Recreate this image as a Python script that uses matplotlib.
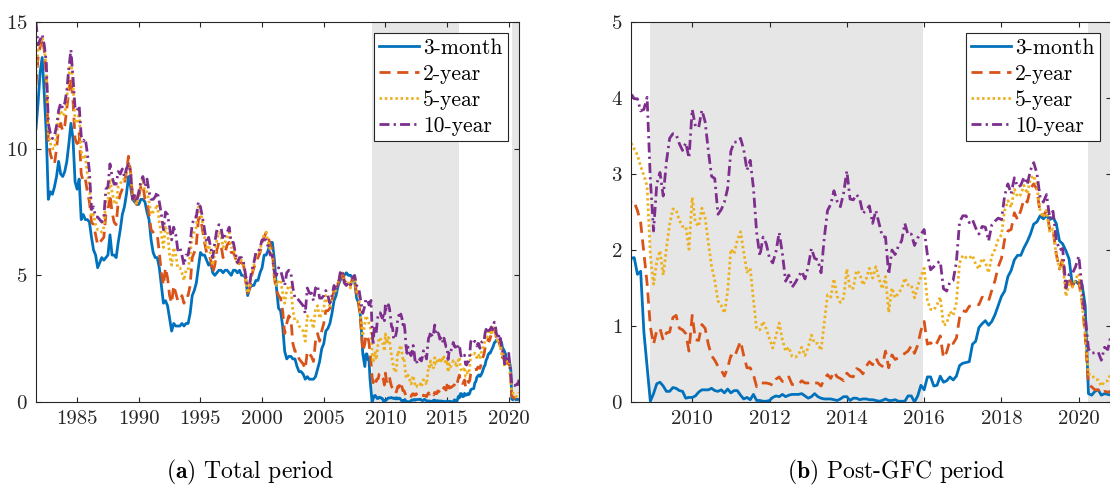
"""Treasury yields, total period and post-GFC period, MATLAB-style two-panel figure."""
import numpy as np
import matplotlib
matplotlib.use("Agg")
import matplotlib.pyplot as plt

plt.rcParams["font.family"] = "cmr10"
plt.rcParams["mathtext.fontset"] = "cm"
plt.rcParams["axes.formatter.use_mathtext"] = True

# ---- data: end-of-month yields (%), bi-monthly Aug 1981 - Apr 2008 -------
# one row per calendar year (first value of a row = end of previous December)
y3m_early = [
    10.8, 11.8,
    13.0, 13.6, 12.2, 10.6, 8.0, 8.3,
    8.2, 8.5, 8.9, 9.5, 9.0, 8.9,
    9.1, 9.5, 10.2, 11.0, 10.4, 8.7,
    8.4, 8.8, 7.2, 7.4, 7.2, 7.2,
    7.1, 6.5, 6.0, 5.8, 5.3, 5.5,
    5.7, 5.6, 5.7, 5.8, 6.6, 5.8,
    5.8, 5.7, 6.3, 6.8, 7.4, 7.7,
    8.2, 8.9, 8.5, 8.0, 7.9, 7.8,
    7.8, 8.0, 8.0, 7.9, 7.5, 7.2,
    6.4, 5.9, 5.7, 5.7, 5.3, 4.6,
    3.9, 4.0, 3.8, 3.3, 2.8, 3.1,
    3.0, 3.0, 3.0, 3.1, 3.0, 3.1,
    3.1, 3.5, 4.2, 4.4, 4.7, 5.3,
    5.9, 5.8, 5.8, 5.6, 5.4, 5.5,
    5.1, 5.0, 5.1, 5.2, 5.2, 5.1,
    5.2, 5.2, 5.1, 5.0, 5.2, 5.2,
    5.1, 5.2, 5.0, 5.0, 4.9, 4.2,
    4.5, 4.6, 4.6, 4.8, 4.8, 5.1,
    5.3, 5.8, 5.8, 6.0, 6.3, 6.3,
    5.6, 4.5, 3.7, 3.6, 3.0, 2.0,
    1.7, 1.8, 1.8, 1.7, 1.7, 1.4,
    1.2, 1.2, 1.1, 0.9, 1.0, 0.9,
    0.9, 0.9, 1.0, 1.3, 1.6, 2.1,
    2.3, 2.8, 2.9, 3.1, 3.5, 4.0,
    4.2, 4.6, 4.8, 5.0, 5.0, 5.1,
    5.0, 5.0, 4.9, 4.8, 4.1, 3.9,
    3.3, 1.9, 1.4,
]
y2y_early = [
    12.5, 13.6,
    14.0, 14.4, 13.9, 12.8, 10.2, 9.8,
    9.5, 9.4, 10.0, 10.8, 11.0, 10.7,
    10.9, 11.6, 12.3, 12.8, 11.9, 10.4,
    10.2, 10.6, 9.0, 8.7, 8.8, 8.3,
    7.9, 7.1, 7.0, 6.6, 6.2, 6.3,
    6.4, 6.5, 7.4, 7.5, 8.2, 7.5,
    7.1, 7.0, 7.9, 8.2, 8.4, 8.6,
    9.1, 9.7, 9.1, 8.1, 8.2, 7.8,
    8.1, 8.5, 8.6, 8.0, 7.9, 7.4,
    6.8, 6.7, 6.6, 6.6, 5.9, 5.1,
    4.6, 5.3, 4.9, 4.2, 3.9, 4.6,
    4.3, 4.0, 4.0, 4.2, 3.9, 4.2,
    4.2, 4.6, 5.7, 5.9, 6.2, 7.2,
    7.3, 6.8, 6.3, 5.9, 5.9, 5.6,
    5.1, 5.4, 6.0, 6.3, 6.2, 5.7,
    5.9, 6.2, 6.3, 5.9, 5.9, 5.7,
    5.4, 5.5, 5.5, 5.4, 4.8, 4.3,
    4.5, 5.0, 5.3, 5.5, 5.7, 5.9,
    6.3, 6.5, 6.7, 6.5, 6.2, 6.0,
    4.9, 4.4, 4.2, 4.1, 3.6, 2.7,
    3.1, 3.4, 3.3, 2.3, 2.0, 2.0,
    1.7, 1.6, 1.5, 1.3, 2.0, 1.9,
    1.8, 1.6, 2.4, 2.7, 2.4, 2.8,
    3.1, 3.6, 3.6, 3.7, 4.0, 4.4,
    4.4, 4.7, 4.9, 5.2, 4.8, 4.7,
    4.8, 4.6, 4.9, 4.9, 4.2, 3.9,
    3.1, 2.0, 2.3,
]
y5y_early = [
    13.0, 13.9,
    14.2, 14.4, 14.0, 13.2, 10.6, 10.2,
    10.0, 10.0, 10.5, 11.3, 11.5, 11.3,
    11.4, 12.0, 12.9, 13.5, 12.5, 11.1,
    11.0, 11.4, 9.9, 9.6, 9.7, 9.0,
    8.5, 7.3, 7.4, 7.0, 6.8, 6.8,
    6.7, 6.9, 8.0, 8.0, 8.8, 8.3,
    7.9, 7.8, 8.5, 8.6, 8.8, 8.8,
    9.2, 9.5, 9.1, 8.0, 8.0, 7.8,
    8.2, 8.6, 8.8, 8.3, 8.3, 7.9,
    7.4, 7.5, 7.6, 7.8, 7.1, 6.6,
    6.1, 6.9, 6.7, 5.8, 5.4, 6.1,
    5.8, 5.3, 5.3, 5.1, 4.8, 5.2,
    5.2, 5.8, 6.6, 6.7, 6.9, 7.7,
    7.6, 7.1, 6.5, 6.1, 6.2, 5.8,
    5.4, 5.9, 6.4, 6.7, 6.6, 6.1,
    6.3, 6.5, 6.7, 6.1, 6.1, 5.8,
    5.4, 5.6, 5.6, 5.4, 4.8, 4.3,
    4.5, 5.1, 5.4, 5.8, 5.8, 6.0,
    6.4, 6.6, 6.7, 6.3, 6.0, 5.8,
    4.9, 4.6, 4.8, 4.8, 4.3, 3.9,
    4.4, 4.6, 4.5, 3.6, 3.2, 3.2,
    3.0, 2.9, 2.8, 2.4, 3.4, 3.3,
    3.2, 2.9, 3.7, 3.8, 3.3, 3.5,
    3.7, 4.2, 3.9, 3.8, 4.1, 4.5,
    4.4, 4.7, 5.0, 5.1, 4.7, 4.6,
    4.7, 4.5, 4.9, 4.9, 4.4, 4.2,
    3.4, 2.6, 3.1,
]
y10y_early = [
    15.0, 14.1,
    14.3, 14.5, 14.1, 13.4, 11.0, 10.6,
    10.4, 10.5, 10.9, 11.5, 11.8, 11.6,
    11.8, 12.3, 13.2, 13.9, 12.8, 11.6,
    11.5, 11.7, 10.5, 10.3, 10.4, 9.8,
    9.1, 7.6, 7.7, 7.3, 7.3, 7.2,
    7.1, 7.3, 8.4, 8.5, 9.4, 8.9,
    8.6, 8.6, 9.1, 9.0, 9.2, 8.9,
    9.2, 9.4, 9.1, 8.0, 8.2, 7.9,
    8.3, 8.7, 8.9, 8.5, 8.8, 8.3,
    8.0, 8.0, 8.1, 8.3, 7.9, 7.4,
    6.8, 7.5, 7.4, 6.9, 6.4, 6.9,
    6.6, 6.0, 6.1, 5.8, 5.4, 5.8,
    5.8, 6.3, 7.0, 7.3, 7.3, 7.9,
    7.7, 7.3, 6.8, 6.3, 6.5, 6.1,
    5.7, 6.3, 6.8, 7.0, 6.9, 6.4,
    6.6, 6.7, 6.9, 6.3, 6.3, 5.9,
    5.5, 5.7, 5.7, 5.5, 5.0, 4.6,
    4.7, 5.2, 5.5, 5.9, 5.9, 6.1,
    6.4, 6.4, 6.4, 6.1, 5.8, 5.8,
    5.1, 5.0, 5.3, 5.2, 4.9, 4.6,
    5.1, 5.2, 5.1, 4.5, 4.1, 4.1,
    4.0, 3.9, 3.8, 3.5, 4.5, 4.3,
    4.3, 4.0, 4.5, 4.6, 4.1, 4.1,
    4.2, 4.4, 4.2, 3.9, 4.2, 4.6,
    4.4, 4.6, 5.1, 5.2, 4.7, 4.6,
    4.7, 4.6, 4.9, 5.0, 4.6, 4.5,
    4.0, 3.5, 3.8,
]

# ---- data: end-of-month yields (%), monthly May 2008 - Oct 2020 ----------
y3m_post = [
    1.89, 1.90, 1.68, 1.72, 0.92, 0.46, 0.01, 0.11,
    0.24, 0.26, 0.21, 0.14, 0.14, 0.19, 0.18, 0.15, 0.14, 0.05, 0.06, 0.06,
    0.08, 0.13, 0.16, 0.16, 0.16, 0.18, 0.15, 0.14, 0.16, 0.12, 0.17, 0.12,
    0.15, 0.15, 0.09, 0.04, 0.06, 0.03, 0.10, 0.02, 0.02, 0.01, 0.01, 0.02,
    0.06, 0.08, 0.07, 0.10, 0.07, 0.09, 0.10, 0.10, 0.10, 0.11, 0.08, 0.05,
    0.07, 0.11, 0.07, 0.05, 0.04, 0.04, 0.04, 0.03, 0.02, 0.04, 0.07, 0.07,
    0.02, 0.05, 0.05, 0.03, 0.04, 0.04, 0.03, 0.03, 0.02, 0.01, 0.02, 0.04,
    0.02, 0.02, 0.03, 0.01, 0.01, 0.01, 0.08, 0.08, 0.00, 0.08, 0.22, 0.16,
    0.33, 0.33, 0.21, 0.22, 0.34, 0.26, 0.28, 0.33, 0.29, 0.34, 0.48, 0.51,
    0.52, 0.53, 0.76, 0.80, 0.98, 1.03, 1.07, 1.01, 1.06, 1.15, 1.27, 1.39,
    1.46, 1.65, 1.73, 1.87, 1.93, 1.93, 2.03, 2.11, 2.21, 2.34, 2.37, 2.45,
    2.41, 2.45, 2.40, 2.43, 2.35, 2.12, 2.08, 1.99, 1.88, 1.54, 1.59, 1.55,
    1.55, 1.27, 0.11, 0.09, 0.14, 0.16, 0.09, 0.11, 0.10, 0.09,
]
y2y_post = [
    2.65, 2.63, 2.52, 2.36, 1.96, 1.56, 0.99, 0.76,
    0.94, 0.97, 0.81, 0.91, 0.92, 1.11, 1.14, 0.97, 0.95, 0.90, 0.67, 1.14,
    0.82, 0.81, 1.02, 0.97, 0.76, 0.61, 0.55, 0.47, 0.42, 0.34, 0.45, 0.61,
    0.58, 0.69, 0.80, 0.61, 0.45, 0.45, 0.36, 0.20, 0.25, 0.25, 0.25, 0.24,
    0.22, 0.30, 0.33, 0.27, 0.27, 0.33, 0.23, 0.23, 0.23, 0.28, 0.25, 0.25,
    0.27, 0.25, 0.25, 0.21, 0.30, 0.36, 0.31, 0.40, 0.33, 0.31, 0.28, 0.38,
    0.34, 0.33, 0.44, 0.42, 0.37, 0.47, 0.53, 0.49, 0.58, 0.50, 0.47, 0.67,
    0.45, 0.62, 0.56, 0.58, 0.61, 0.64, 0.67, 0.74, 0.64, 0.75, 0.94, 1.06,
    0.76, 0.78, 0.73, 0.78, 0.87, 0.58, 0.66, 0.81, 0.77, 0.84, 1.11, 1.20,
    1.19, 1.26, 1.27, 1.28, 1.28, 1.38, 1.36, 1.33, 1.47, 1.60, 1.78, 1.89,
    2.14, 2.25, 2.27, 2.49, 2.40, 2.52, 2.67, 2.63, 2.81, 2.87, 2.80, 2.48,
    2.45, 2.52, 2.27, 2.27, 1.95, 1.75, 1.89, 1.50, 1.63, 1.52, 1.61, 1.58,
    1.33, 0.86, 0.23, 0.20, 0.16, 0.16, 0.11, 0.14, 0.13, 0.14,
]
y5y_post = [
    3.41, 3.33, 3.25, 3.10, 2.98, 2.84, 1.93, 1.55,
    1.85, 1.99, 1.67, 2.02, 2.34, 2.54, 2.53, 2.39, 2.31, 2.31, 2.01, 2.69,
    2.36, 2.31, 2.55, 2.43, 2.10, 1.79, 1.60, 1.33, 1.27, 1.17, 1.45, 2.01,
    1.95, 2.13, 2.24, 1.97, 1.71, 1.76, 1.35, 0.96, 0.95, 1.06, 0.96, 0.83,
    0.71, 0.87, 1.04, 0.82, 0.67, 0.72, 0.60, 0.59, 0.62, 0.72, 0.61, 0.72,
    0.88, 0.77, 0.77, 0.68, 1.05, 1.41, 1.38, 1.62, 1.39, 1.31, 1.37, 1.75,
    1.49, 1.50, 1.73, 1.69, 1.54, 1.62, 1.76, 1.63, 1.78, 1.62, 1.49, 1.65,
    1.18, 1.50, 1.37, 1.43, 1.49, 1.63, 1.54, 1.54, 1.37, 1.52, 1.65, 1.76,
    1.33, 1.22, 1.21, 1.28, 1.38, 1.01, 1.03, 1.19, 1.14, 1.31, 1.83, 1.93,
    1.90, 1.89, 1.93, 1.81, 1.75, 1.89, 1.84, 1.70, 1.92, 2.01, 2.14, 2.20,
    2.52, 2.65, 2.56, 2.80, 2.70, 2.73, 2.85, 2.74, 2.94, 2.98, 2.84, 2.51,
    2.43, 2.52, 2.23, 2.28, 1.93, 1.76, 1.84, 1.39, 1.55, 1.51, 1.62, 1.69,
    1.32, 0.89, 0.37, 0.36, 0.30, 0.29, 0.21, 0.27, 0.28, 0.38,
]
y10y_post = [
    4.06, 3.99, 3.99, 3.83, 3.85, 4.01, 2.93, 2.25,
    2.87, 3.02, 2.71, 3.16, 3.47, 3.53, 3.52, 3.40, 3.31, 3.41, 3.21, 3.85,
    3.63, 3.61, 3.84, 3.69, 3.31, 2.97, 2.94, 2.47, 2.53, 2.63, 2.81, 3.30,
    3.42, 3.42, 3.47, 3.32, 3.05, 3.18, 2.82, 2.23, 1.92, 2.17, 2.08, 1.89,
    1.83, 1.98, 2.23, 1.95, 1.59, 1.67, 1.51, 1.57, 1.65, 1.72, 1.62, 1.78,
    2.02, 1.89, 1.87, 1.70, 2.16, 2.52, 2.60, 2.78, 2.64, 2.57, 2.75, 3.04,
    2.67, 2.66, 2.73, 2.67, 2.48, 2.53, 2.58, 2.35, 2.52, 2.35, 2.18, 2.17,
    1.68, 2.00, 1.94, 2.05, 2.12, 2.35, 2.20, 2.21, 2.06, 2.16, 2.21, 2.27,
    1.94, 1.74, 1.78, 1.83, 1.85, 1.49, 1.46, 1.58, 1.60, 1.84, 2.37, 2.45,
    2.45, 2.36, 2.40, 2.29, 2.21, 2.31, 2.30, 2.12, 2.33, 2.38, 2.42, 2.40,
    2.72, 2.87, 2.74, 2.95, 2.83, 2.85, 2.96, 2.86, 3.05, 3.15, 3.01, 2.69,
    2.63, 2.73, 2.41, 2.51, 2.14, 2.00, 2.02, 1.50, 1.68, 1.69, 1.78, 1.92,
    1.51, 1.13, 0.70, 0.64, 0.65, 0.66, 0.55, 0.72, 0.69, 0.88,
]

labels = ["3-month", "2-year", "5-year", "10-year"]
qe_periods = [(2008.9, 2015.96), (2020.25, 2021.0)]  # shaded windows
left_xticks = [1985, 1990, 1995, 2000, 2005, 2010, 2015, 2020]
right_xticks = [2010, 2012, 2014, 2016, 2018, 2020]

# sampling grid: bi-monthly from end-Aug 1981, monthly from end-May 2008
t_early = 1981 + 8 / 12 + np.arange(len(y3m_early)) / 6
t_post = 2008 + 5 / 12 + np.arange(len(y3m_post)) / 12
t = np.concatenate([t_early, t_post])
series = [
    np.concatenate([y3m_early, y3m_post]),
    np.concatenate([y2y_early, y2y_post]),
    np.concatenate([y5y_early, y5y_post]),
    np.concatenate([y10y_early, y10y_post]),
]

colors = ["#0072BD", "#D95319", "#EDB120", "#7E2F8E"]
# MATLAB-like dash patterns (in units of line width)
dash_styles = [None, (4.0, 2.4), (0.9, 1.0), (3.6, 1.5, 0.8, 1.5)]
AX_COLOR = "#262626"
LW = 2.0


def style_axes(ax, xticks, ymax):
    for spine in ax.spines.values():
        spine.set_color(AX_COLOR)
        spine.set_linewidth(0.8)
    ax.set_xticks(xticks)
    ax.set_xticklabels([str(x) for x in xticks])
    ax.set_yticks(np.arange(0, ymax + 1, 5 if ymax > 5 else 1))
    ax.set_ylim(0, ymax)
    ax.tick_params(direction="in", top=True, right=True, length=3.5,
                   width=0.8, color=AX_COLOR, labelcolor=AX_COLOR,
                   labelsize=15, pad=6)


def draw_panel(ax, xlim, ymax, xticks):
    for start, end in qe_periods:
        ax.axvspan(start, end, color="#e6e6e6", lw=0, zorder=0)
    for y, c, dash, lab in zip(series, colors, dash_styles, labels):
        line, = ax.plot(t, y, color=c, lw=LW, label=lab, zorder=2)
        if dash is not None:
            line.set_dashes(dash)
    ax.set_xlim(*xlim)
    style_axes(ax, xticks, ymax)
    leg = ax.legend(loc="upper right", fontsize=15.5, fancybox=False,
                    framealpha=1, edgecolor=AX_COLOR, borderpad=0.25,
                    labelspacing=0.3, handlelength=1.85, handletextpad=0.2,
                    borderaxespad=0.5)
    leg.get_frame().set_linewidth(0.8)


fig = plt.figure(figsize=(11.1, 4.86), dpi=100)
ax1 = fig.add_axes([36 / 1110, 84 / 486, 483 / 1110, 380 / 486])
ax2 = fig.add_axes([631 / 1110, 84 / 486, 480 / 1110, 380 / 486])

draw_panel(ax1, (t[0], t[-1]), 15, left_xticks)
draw_panel(ax2, (t_post[0], t_post[-1]), 5, right_xticks)

fig.text(166 / 1110, 8 / 486, r"$\mathbf{(a)}$ Total period", fontsize=17,
         va="baseline", ha="left")
fig.text(787 / 1110, 8 / 486, r"$\mathbf{(b)}$ Post-GFC period", fontsize=17,
         va="baseline", ha="left")

fig.savefig("out.png", dpi=100)
